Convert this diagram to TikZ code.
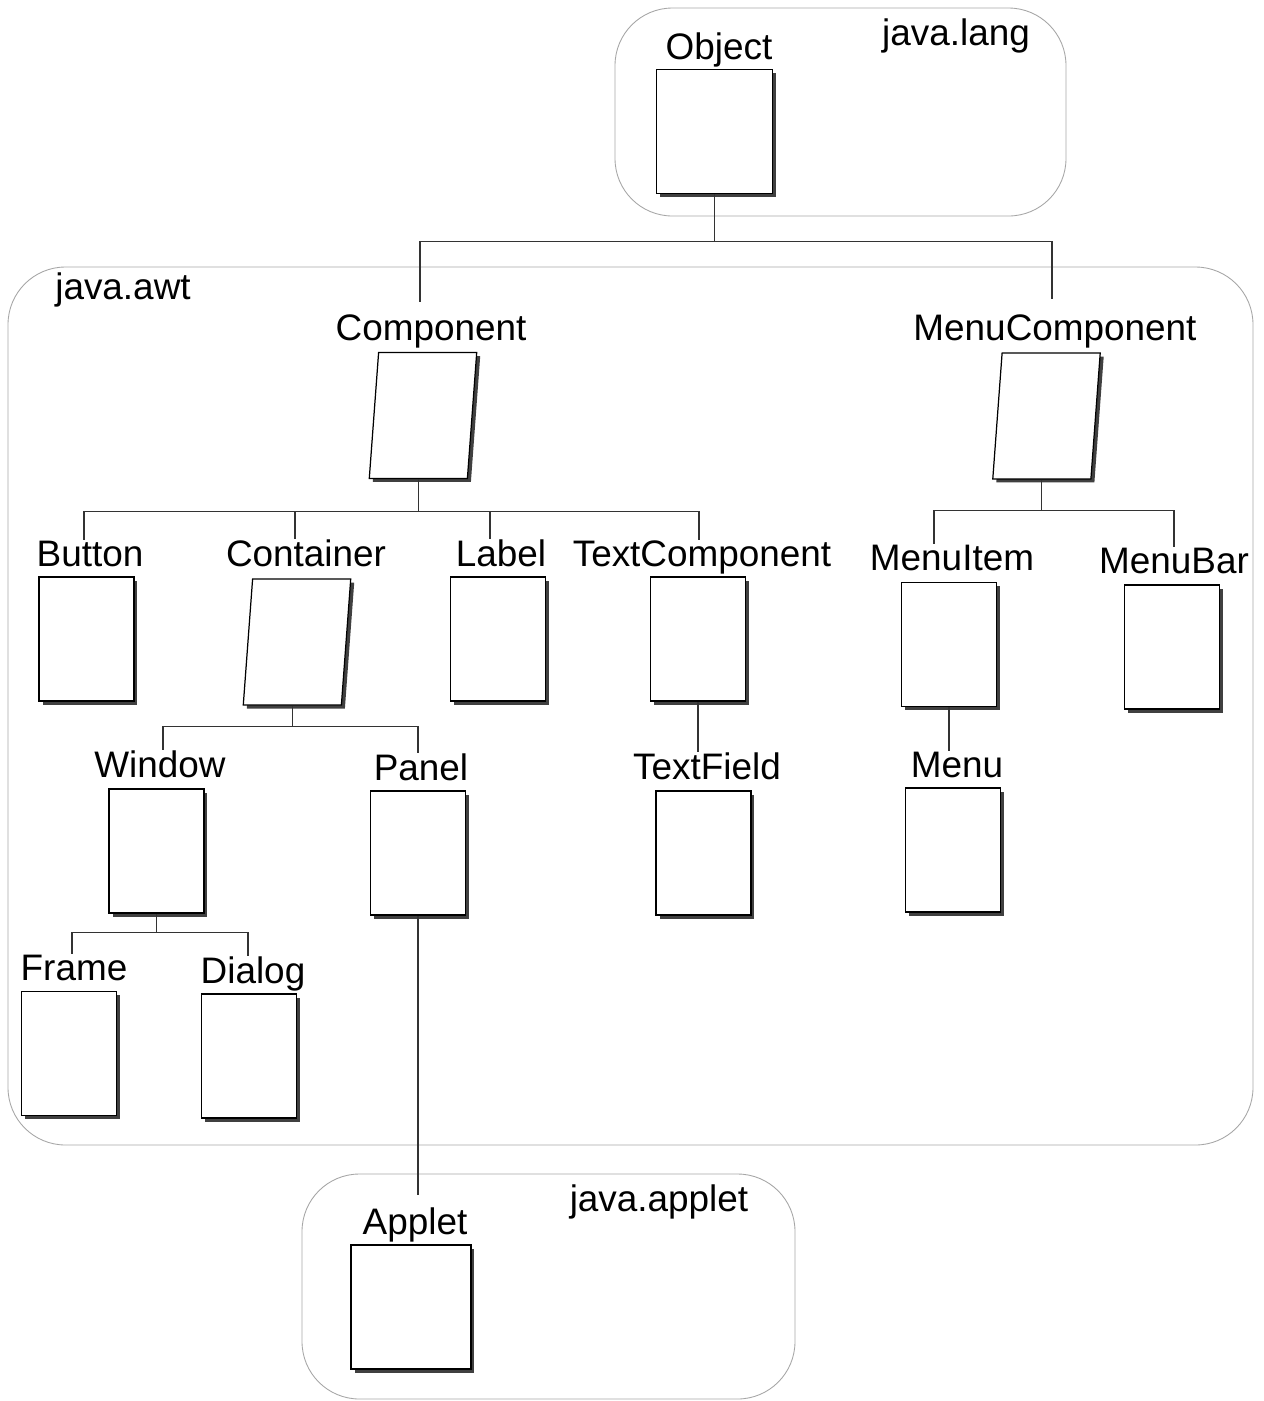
\documentclass[tikz,border=0pt]{standalone}
\usepackage{fontspec}
\setmainfont{Liberation Sans}
\usepackage{tikz}
\usetikzlibrary{shapes.geometric, shadows}
\tikzset{
  cls/.style={
    draw, fill=white, line width=1.1pt,
    minimum width=1.9cm, minimum height=2.48cm,
    drop shadow={shadow xshift=0.07cm, shadow yshift=-0.07cm, fill=black!75, opacity=1}
  },
  abscls/.style={
    cls, line width=0.7pt,
    trapezium, trapezium left angle=84, trapezium right angle=96,
    trapezium stretches=true,
    minimum width=2.15cm, minimum height=2.52cm
  },
  clsname/.style={anchor=base, inner sep=0pt, font=\fontsize{21}{25}\selectfont},
  pkg/.style={draw=black!35, line width=0.5pt, rounded corners=1.15cm},
  conn/.style={draw=black!80, line width=0.6pt}
}
\begin{document}
\begin{tikzpicture}[x=0.02cm, y=-0.02cm]
\useasboundingbox (0,0) rectangle (1264,1401);

\draw[pkg] (615,8) rectangle (1066,216);
\draw[pkg] (8,267) rectangle (1253,1145);
\draw[pkg] (302,1174) rectangle (795,1399);

\node[clsname] (LangT) at (956,45) {java.lang};
\node[clsname] (AwtT) at (123,299) {java.awt};
\node[clsname] (AppletPkgT) at (659,1211) {java.applet};

\node[clsname] (ObjectT) at (719,59) {Object};
\node[clsname] (ComponentT) at (431,340) {Component};
\node[clsname] (MenuComponentT) at (1055,340) {MenuComponent};
\node[clsname] (ButtonT) at (90,566) {Button};
\node[clsname] (ContainerT) at (306,566) {Container};
\node[clsname] (LabelT) at (501,566) {Label};
\node[clsname] (TextComponentT) at (702,566) {TextComponent};
\node[clsname] (MenuItemT) at (952,570) {MenuItem};
\node[clsname] (MenuBarT) at (1174,573) {MenuBar};
\node[clsname] (WindowT) at (160,777) {Window};
\node[clsname] (PanelT) at (421,780) {Panel};
\node[clsname] (TextFieldT) at (707,779) {TextField};
\node[clsname] (MenuT) at (957,777) {Menu};
\node[clsname] (FrameT) at (74,980) {Frame};
\node[clsname] (DialogT) at (253,983) {Dialog};
\node[clsname] (AppletT) at (415,1234) {Applet};

\node[cls, minimum width=2.32cm] (Object) at (714.5,131.5) {};
\node[abscls] (Component) at (423,415.5) {};
\node[abscls] (MenuComponent) at (1046.5,416) {};
\node[abscls] (Container) at (297,642) {};
\node[cls] (Button) at (86.5,639) {};
\node[cls] (Label) at (498,639) {};
\node[cls] (TextComponent) at (698,639) {};
\node[cls] (MenuItem) at (949,644.5) {};
\node[cls] (MenuBar) at (1172,647) {};
\node[cls] (Window) at (156.5,851) {};
\node[cls] (Panel) at (418,853) {};
\node[cls] (TextField) at (703.5,853) {};
\node[cls] (Menu) at (953,850) {};
\node[cls] (Frame) at (69,1053.5) {};
\node[cls] (Dialog) at (249,1056) {};
\node[cls, minimum width=2.4cm] (Applet) at (411,1307) {};

\coordinate (ObjectBus) at ([yshift=-0.94cm]Object.south);
\coordinate (ComponentBus) at ([yshift=-0.64cm]Component.bottom side);
\coordinate (MenuComponentBus) at ([yshift=-0.62cm]MenuComponent.bottom side);
\coordinate (ContainerBus) at ([yshift=-0.42cm]Container.bottom side);
\coordinate (WindowBus) at ([yshift=-0.38cm]Window.south);
\coordinate (AppletTop) at ([yshift=0.24cm]AppletT.north);

\draw[conn] (Object.south) -- (ObjectBus);
\draw[conn] (ObjectBus) -| ([xshift=-0.22cm,yshift=0.24cm]ComponentT.north);
\draw[conn] (ObjectBus) -| ([xshift=-0.06cm,yshift=0.3cm]MenuComponentT.north);

\draw[conn] (Component.bottom side) -- (ComponentBus);
\draw[conn] (ComponentBus) -| ([xshift=-0.12cm]ButtonT.north);
\draw[conn] (ComponentBus) -| ([xshift=-0.22cm]ContainerT.north);
\draw[conn] (ComponentBus) -| ([xshift=-0.22cm]LabelT.north);
\draw[conn] (ComponentBus) -| ([xshift=-0.06cm]TextComponentT.north);

\draw[conn] (MenuComponent.bottom side) -- (MenuComponentBus);
\draw[conn] (MenuComponentBus) -| ([xshift=-0.36cm]MenuItemT.north);
\draw[conn] (MenuComponentBus) -| (MenuBarT.north);

\draw[conn] (Container.bottom side) -- (ContainerBus);
\draw[conn] (ContainerBus) -| ([xshift=0.06cm]WindowT.north);
\draw[conn] (ContainerBus) -| ([xshift=-0.06cm]PanelT.north);

\draw[conn] (Window.south) -- (WindowBus);
\draw[conn] (WindowBus) -| ([xshift=-0.04cm]FrameT.north);
\draw[conn] (WindowBus) -| ([xshift=-0.1cm]DialogT.north);

\draw[conn] (TextComponent.south) -- (TextComponent.south |- TextFieldT.north);
\draw[conn] (MenuItem.south) -- (MenuItem.south |- MenuT.north);
\draw[conn] (Panel.south) -- (Panel.south |- AppletTop);
\end{tikzpicture}
\end{document}
